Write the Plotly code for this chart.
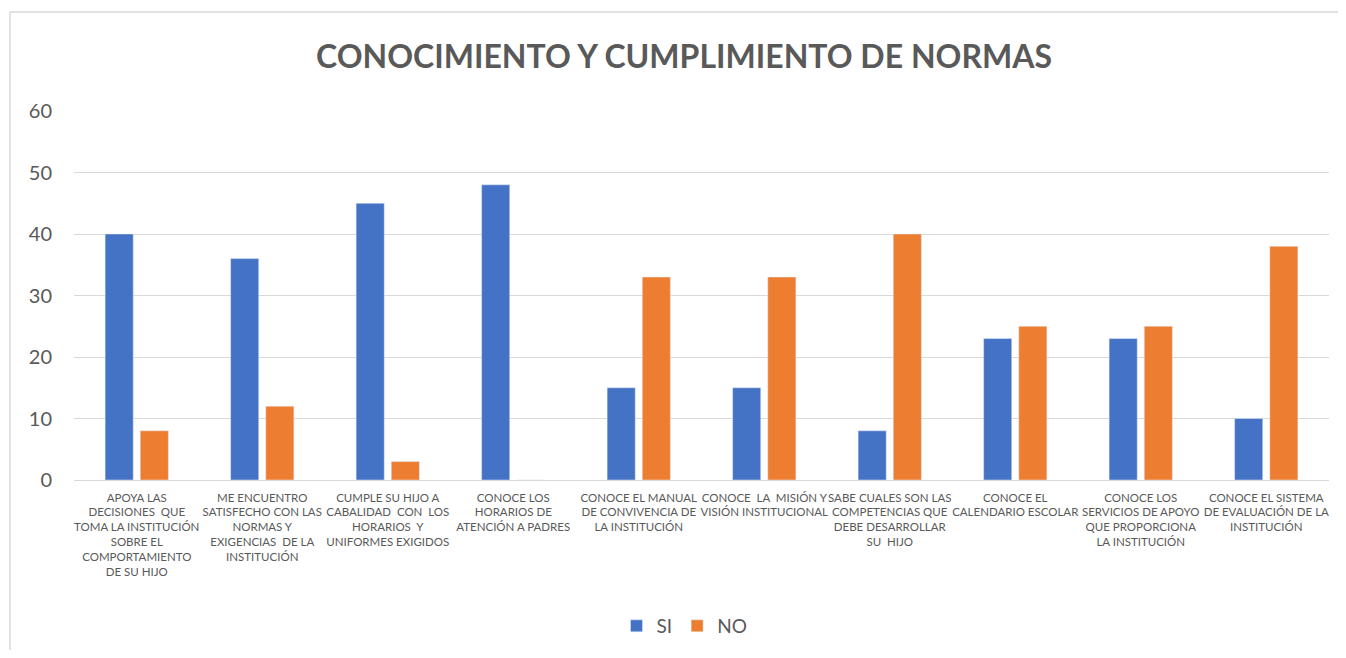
import plotly.graph_objects as go

categories = [
    "APOYA LAS<br>DECISIONES  QUE<br>TOMA LA INSTITUCIÓN<br>SOBRE EL<br>COMPORTAMIENTO<br>DE SU HIJO",
    "ME ENCUENTRO<br>SATISFECHO CON LAS<br>NORMAS Y<br>EXIGENCIAS  DE LA<br>INSTITUCIÓN",
    "CUMPLE SU HIJO A<br>CABALIDAD  CON  LOS<br>HORARIOS  Y<br>UNIFORMES EXIGIDOS",
    "CONOCE LOS<br>HORARIOS DE<br>ATENCIÓN A PADRES",
    "CONOCE EL MANUAL<br>DE CONVIVENCIA DE<br>LA INSTITUCIÓN",
    "CONOCE  LA  MISIÓN Y<br>VISIÓN INSTITUCIONAL",
    "SABE CUALES SON LAS<br>COMPETENCIAS QUE<br>DEBE DESARROLLAR<br>SU  HIJO",
    "CONOCE EL<br>CALENDARIO ESCOLAR",
    "CONOCE LOS<br>SERVICIOS DE APOYO<br>QUE PROPORCIONA<br>LA INSTITUCIÓN",
    "CONOCE EL SISTEMA<br>DE EVALUACIÓN DE LA<br>INSTITUCIÓN",
]
si_values = [40, 36, 45, 48, 15, 15, 8, 23, 23, 10]
no_values = [8, 12, 3, 0, 33, 33, 40, 25, 25, 38]
y_ticks = [0, 10, 20, 30, 40, 50, 60]

FONT = "Lato, Carlito, Calibri, sans-serif"
GRAY = "#595959"

fig = go.Figure()
fig.add_trace(go.Bar(name="SI", x=categories, y=si_values, marker_color="#4472C4"))
fig.add_trace(go.Bar(name="NO", x=categories, y=no_values, marker_color="#ED7D31"))

OFF = 8  # page body margin
W, H = 1346 - 2 * OFF, 658 - 2 * OFF
ml, mt = 74 - OFF, 111 - OFF
mr = W - (1329 - OFF)
mb = H - (480 - OFF)
pw, ph = W - ml - mr, H - mt - mb

def px_x(p):
    return (p - OFF - ml) / pw

def px_y(p):
    return (H - mb - (p - OFF)) / ph

fig.update_layout(
    width=W, height=H,
    margin=dict(l=ml, r=mr, t=mt, b=mb, autoexpand=False),
    paper_bgcolor="white", plot_bgcolor="white",
    barmode="group", bargap=0.44, bargroupgap=0.2,
    font=dict(family=FONT, color=GRAY),
    title=dict(text="<b>CONOCIMIENTO Y CUMPLIMIENTO DE NORMAS</b>",
               x=(684 - OFF) / W, xanchor="center", y=1 - (57 - OFF) / H, yanchor="middle",
               font=dict(size=32, color=GRAY, family=FONT)),
    legend=dict(orientation="h", x=0.5 - 17 / pw, xanchor="center", y=px_y(626), yanchor="middle",
                font=dict(size=19, color=GRAY, family=FONT), itemwidth=30,
                traceorder="normal"),
    xaxis=dict(tickfont=dict(size=11.5, color=GRAY, family=FONT), tickangle=0,
               showline=False, showgrid=False, ticks="", ticklabelstandoff=9, automargin=False),
    yaxis=dict(range=[0, 60], tickvals=y_ticks, showgrid=True, gridcolor="#D9D9D9",
               gridwidth=1, zeroline=True, zerolinecolor="#D9D9D9", zerolinewidth=1,
               tickfont=dict(size=20, color=GRAY, family=FONT), ticks="", ticklabelstandoff=21,
               automargin=False),
    shapes=[dict(type="rect", xref="paper", yref="paper",
                 x0=px_x(10), x1=px_x(1360), y0=px_y(670), y1=px_y(12),
                 line=dict(color="#D9D9D9", width=1.5), fillcolor="rgba(0,0,0,0)", layer="below")],
)

fig.write_html("out.html")
